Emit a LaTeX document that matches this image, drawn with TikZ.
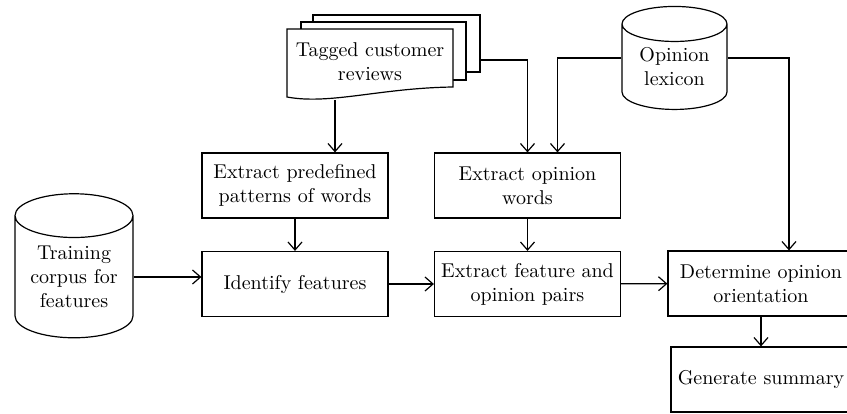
\documentclass[tikz,border=0pt]{standalone}
\usetikzlibrary{shapes.geometric,arrows.meta}
\begin{document}
\begin{tikzpicture}[x=0.5pt,y=-0.5pt,line width=0.6pt,
        >={Straight Barb[length=4pt,width=7pt]},
        box/.style={draw,align=center,minimum width=93pt,minimum height=32.5pt,inner sep=0pt},
        store/.style={draw,cylinder,shape border rotate=90,align=center,inner sep=0pt,aspect=0.5}]
        \useasboundingbox (0,0) rectangle (847,413);
        \clip (0,0) rectangle (847,413);

        % stack of documents
        \draw[fill=white] (313,15) rectangle (480,72);
        \draw[fill=white] (301,22) rectangle (466,80);
        \draw[fill=white] (287,29) -- (453,29) -- (453,87) .. controls (380,88) and (330,105) .. (287,97) -- cycle;
        \node[align=center] (docs) at (370,62) {Tagged customer\\reviews};

        \node[store,minimum width=59pt,minimum height=72pt] (corpus) at (74,277) {Training\\corpus for\\features};
        \node[store,minimum width=52.5pt,minimum height=51.5pt] (lexicon) at (674.5,67) {Opinion\\lexicon};

        \node[box] (pred) at (295,185.5) {Extract predefined\\patterns of words};
        \node[box] (ident) at (295,284) {Identify features};
        \node[box] (opw) at (527.5,185.5) {Extract opinion\\words};
        \node[box] (pairs) at (527.5,284) {Extract feature and\\opinion pairs};
        \node[box] (orient) at (761,283.5) {Determine opinion\\orientation};
        \node[box,minimum width=90pt] (summ) at (761,379.5) {Generate summary};

        \coordinate (docfoot) at (335,100);
        \coordinate (docside) at (480,60);
        \draw[->] (docfoot) -- (docfoot |- pred.north);
        \draw[->] (docside) -| (opw.north);
        \draw[->] (lexicon.west |- lexicon.shape center) -| ([xshift=15pt]opw.north);
        \draw[->] (lexicon.east |- lexicon.shape center) -| ([xshift=14pt]orient.north);
        \draw[->] (corpus.east) -- (corpus.east -| ident.west);
        \draw[->] (pred) -- (ident);
        \draw[->] (opw) -- (pairs);
        \draw[->] (ident) -- (pairs);
        \draw[->] (pairs) -- (orient);
        \draw[->] (orient) -- (summ);
    \end{tikzpicture}
\end{document}
